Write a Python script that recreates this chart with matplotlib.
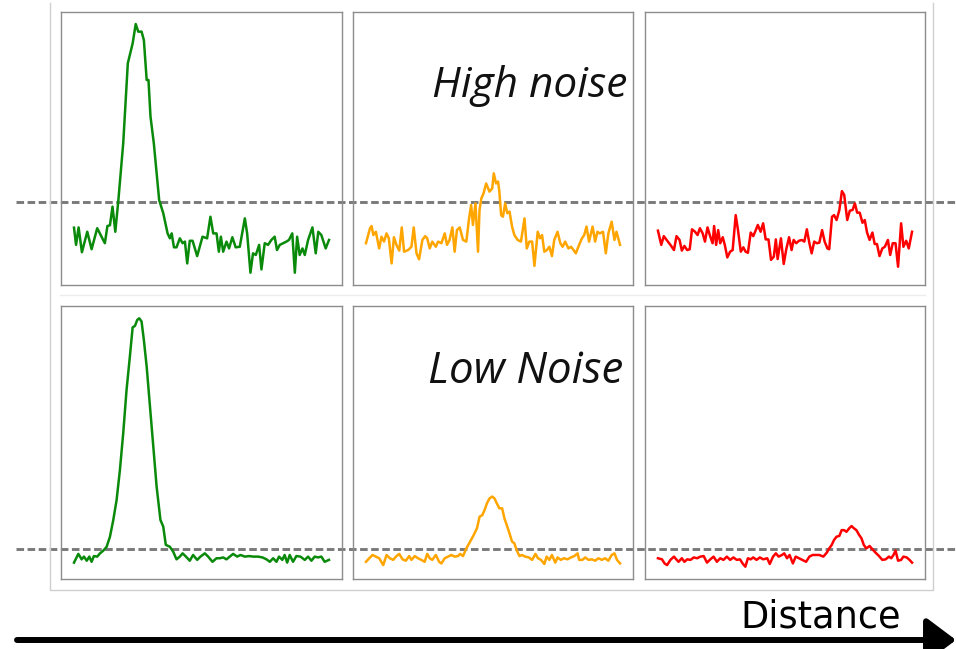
import numpy as np
import matplotlib
matplotlib.use('Agg')
import matplotlib.pyplot as plt

# distance (0-100 across the trace) and signal (% of panel height)
hi_green_x = [0, 0.8, 1.8, 3.1, 5.2, 6.9, 9.1, 12.1, 13.1, 14.1, 15.1, 16.2, 17.4, 19.3, 21.1, 23.0, 24.2, 25.2, 26.5, 27.4,
              28.5, 29.2, 30.0, 31.3, 33.4, 35.0, 36.7, 37.6, 38.3, 39.2, 40.2, 41.5, 42.6, 43.5, 44.4, 45.4, 46.5, 48.3, 50.4, 52.2,
              53.5, 54.6, 55.9, 56.8, 57.6, 58.5, 59.8, 60.8, 62.1, 63.4, 65.0, 67.0, 67.9, 69.2, 70.2, 71.3, 72.6, 73.5, 74.8, 76.1,
              77.4, 78.7, 79.6, 80.7, 82.0, 83.3, 84.3, 85.6, 86.6, 87.5, 88.5, 89.6, 90.5, 91.8, 93.5, 94.8, 95.8, 97.0, 98.7, 100]
hi_green_y = [21.0, 14.7, 21.1, 12.0, 19.5, 13.1, 20.8, 15.3, 21.6, 21.9, 28.7, 19.5, 31.1, 51.9, 81.2, 88.5, 95.6, 92.8, 92.8, 89.7,
              75.1, 75.1, 61.7, 51.9, 31.1, 26.3, 18.9, 17.1, 18.9, 13.8, 13.8, 17.1, 15.3, 15.9, 7.9, 16.2, 16.2, 10.6, 17.7, 17.1,
              25.0, 18.9, 18.9, 12.2, 17.7, 12.2, 15.9, 13.4, 17.5, 13.8, 14.0, 24.4, 18.9, 4.5, 11.6, 11.0, 14.7, 5.7, 15.3, 14.7,
              16.5, 17.7, 12.8, 14.7, 15.3, 15.9, 16.5, 18.9, 4.5, 17.7, 11.0, 13.4, 11.0, 16.5, 21.1, 11.6, 19.5, 18.3, 13.4, 16.5]

hi_orange_x = [0, 1.6, 2.2, 2.9, 3.9, 5.2, 6.1, 7.1, 8.1, 9.0, 10.1, 11.0, 12.0, 13.1, 14.1, 15.0, 16.6, 17.9, 18.8, 19.9,
               20.9, 22.2, 23.3, 24.1, 25.1, 26.1, 27.5, 28.4, 29.7, 31.0, 31.9, 32.9, 34.0, 34.9, 35.8, 36.9, 38.2, 39.5, 40.5, 41.4,
               42.1, 43.1, 44.1, 44.7, 45.4, 46.3, 47.3, 48.6, 49.7, 50.3, 51.2, 52.0, 52.5, 53.2, 53.9, 54.8, 55.6, 56.5, 57.5, 58.4,
               59.7, 61.0, 62.4, 63.3, 64.3, 65.4, 66.3, 67.6, 68.5, 69.3, 70.2, 71.2, 72.2, 73.2, 74.1, 75.4, 76.5, 77.4, 78.4, 79.7,
               80.7, 81.7, 82.6, 83.9, 85.0, 85.9, 86.8, 87.8, 89.2, 90.2, 91.1, 92.0, 93.3, 94.4, 95.4, 96.7, 97.8, 98.6, 100]
hi_orange_y = [15.3, 20.8, 21.6, 18.3, 19.5, 13.4, 17.7, 15.9, 18.9, 17.1, 7.9, 17.5, 14.7, 12.6, 21.1, 12.2, 12.8, 14.0, 21.1, 11.6,
               9.4, 16.5, 17.9, 17.1, 13.4, 15.9, 14.0, 15.9, 15.3, 18.9, 14.7, 16.5, 21.1, 12.2, 20.1, 21.1, 16.5, 15.9, 23.8, 29.3,
               22.0, 29.9, 12.2, 27.5, 31.7, 33.6, 37.2, 34.2, 35.4, 40.9, 37.2, 37.9, 34.2, 25.6, 25.0, 29.9, 26.3, 26.9, 21.4, 18.3,
               16.5, 15.9, 24.4, 13.4, 15.9, 15.9, 7.0, 19.5, 17.1, 18.3, 12.2, 12.8, 14.0, 10.6, 16.5, 19.5, 15.3, 14.0, 15.9, 13.4,
               14.0, 12.8, 11.6, 14.7, 17.1, 18.3, 21.4, 15.9, 21.4, 15.9, 19.5, 18.9, 19.5, 11.6, 18.9, 23.2, 16.5, 19.5, 14.7]

hi_red_x = [0, 1.3, 2.3, 3.9, 4.9, 6.3, 7.3, 8.5, 9.4, 10.4, 11.5, 12.5, 13.4, 14.6, 15.6, 16.5, 17.6, 18.5, 19.5, 20.6,
            21.5, 22.1, 22.9, 23.7, 24.5, 25.5, 26.3, 27.3, 28.4, 29.4, 30.6, 31.5, 32.6, 33.6, 34.5, 35.4, 36.5, 37.5, 38.5, 39.3,
            40.4, 41.4, 42.4, 43.5, 44.5, 45.6, 46.4, 47.1, 48.4, 49.5, 50.5, 51.6, 52.6, 53.4, 54.4, 55.5, 56.6, 57.6, 58.6, 59.6,
            60.5, 61.5, 62.5, 63.5, 64.6, 65.6, 66.7, 67.4, 68.5, 69.3, 70.3, 71.4, 72.4, 73.3, 74.5, 75.5, 76.6, 77.5, 78.4, 79.4,
            80.5, 81.4, 82.3, 83.3, 84.4, 85.3, 86.2, 87.2, 88.3, 89.3, 90.5, 91.4, 92.4, 93.5, 94.5, 95.7, 96.6, 97.7, 98.7, 100]
hi_red_y = [19.9, 14.7, 17.9, 15.9, 14.7, 12.8, 17.9, 16.5, 12.6, 14.3, 12.8, 13.1, 20.4, 19.5, 18.3, 20.8, 18.9, 15.9, 21.1, 17.7,
            15.3, 21.6, 14.7, 20.1, 15.3, 17.5, 14.7, 10.1, 12.2, 12.8, 25.6, 20.1, 12.2, 13.8, 12.2, 11.8, 19.2, 17.9, 20.1, 22.0,
            19.5, 22.6, 16.7, 16.7, 9.2, 10.4, 16.7, 9.5, 17.1, 7.7, 13.1, 17.5, 12.8, 16.5, 15.3, 16.2, 16.5, 15.9, 20.4, 15.3,
            11.6, 15.9, 15.3, 15.5, 20.1, 15.9, 13.4, 13.1, 25.0, 25.6, 23.8, 27.5, 34.4, 33.0, 23.8, 27.2, 27.5, 29.9, 26.5, 26.5,
            22.8, 23.8, 19.2, 16.5, 19.2, 15.0, 15.0, 10.6, 13.4, 14.0, 16.5, 11.0, 15.3, 15.3, 6.7, 22.6, 14.0, 16.2, 13.4, 19.5]

lo_green_x = [0, 1.7, 3.0, 3.9, 5.0, 6.0, 6.9, 7.8, 9.1, 10.2, 11.5, 12.8, 14.1, 15.4, 16.7, 18.0, 19.3, 20.6, 21.9, 23.0,
              23.9, 24.8, 25.6, 26.5, 27.4, 28.5, 29.8, 31.1, 32.4, 33.9, 35.0, 36.0, 37.6, 38.9, 40.2, 41.5, 42.6, 43.9, 45.4, 46.7,
              48.3, 49.6, 51.3, 52.6, 54.3, 55.9, 57.2, 58.5, 59.8, 61.1, 62.4, 64.0, 65.3, 67.0, 68.7, 70.2, 72.2, 73.9, 75.5, 76.8,
              78.1, 79.4, 80.4, 81.7, 82.6, 83.6, 84.6, 85.9, 87.2, 88.8, 90.5, 91.8, 93.1, 94.4, 95.7, 97.0, 98.3, 100]
lo_green_y = [6.0, 9.2, 7.2, 8.2, 6.7, 8.2, 6.3, 8.4, 8.2, 9.4, 10.4, 11.8, 15.5, 21.6, 28.9, 39.9, 53.4, 69.2, 81.4, 92.2,
              92.7, 94.9, 95.5, 94.3, 87.5, 77.8, 63.1, 48.5, 33.8, 21.6, 19.2, 12.5, 11.8, 10.0, 7.2, 8.2, 9.4, 8.2, 6.7, 8.8,
              7.0, 8.2, 9.4, 8.2, 6.3, 7.6, 7.6, 7.9, 7.2, 8.2, 9.2, 8.2, 8.8, 8.2, 8.4, 8.2, 8.2, 7.9, 7.2, 6.3,
              7.6, 6.3, 8.2, 7.0, 8.8, 6.0, 8.8, 6.3, 8.4, 8.2, 7.0, 8.2, 6.7, 8.2, 7.9, 8.2, 6.3, 7.0]

lo_orange_x = [0, 1.3, 2.6, 3.9, 5.2, 6.8, 8.1, 9.4, 10.7, 11.8, 13.1, 14.4, 15.7, 17.0, 17.9, 19.2, 20.5, 21.8, 23.1, 24.1,
               25.1, 26.1, 27.5, 28.8, 29.7, 31.0, 32.3, 33.6, 34.9, 36.2, 37.1, 38.2, 39.5, 41.0, 42.4, 43.7, 44.7, 45.8, 46.7, 47.6,
               48.6, 49.7, 50.6, 51.5, 52.5, 53.6, 54.5, 55.4, 56.5, 57.5, 58.4, 59.3, 60.4, 61.4, 62.7, 64.1, 65.4, 66.7, 67.7, 68.9,
               70.2, 71.1, 72.2, 73.2, 74.5, 75.4, 76.7, 78.0, 79.3, 80.7, 82.0, 83.3, 83.9, 85.2, 86.3, 87.6, 88.9, 90.2, 91.5, 92.8,
               94.1, 95.4, 96.7, 97.8, 98.8, 100]
lo_orange_y = [6.3, 7.6, 8.8, 8.2, 7.6, 5.1, 8.8, 7.6, 7.0, 8.2, 9.2, 7.2, 6.7, 8.4, 7.0, 8.4, 7.6, 7.0, 6.3, 9.2,
               7.6, 7.0, 8.8, 6.3, 5.7, 7.6, 8.2, 8.8, 8.2, 8.4, 9.2, 8.4, 11.2, 13.7, 16.1, 18.6, 22.8, 23.4, 25.3, 27.7,
               29.5, 30.2, 29.5, 27.7, 25.9, 25.9, 22.2, 19.8, 16.7, 13.7, 13.1, 10.6, 8.4, 8.8, 8.2, 7.9, 7.0, 9.2, 7.6, 7.0,
               5.5, 8.2, 7.0, 8.8, 6.0, 7.9, 7.0, 7.6, 7.2, 7.9, 8.4, 9.4, 7.0, 7.0, 7.9, 7.0, 7.2, 6.7, 7.6, 7.0,
               7.6, 6.7, 8.8, 9.4, 7.0, 5.7]

lo_red_x = [0, 1.6, 2.6, 3.6, 4.9, 6.3, 7.2, 8.1, 9.4, 10.4, 11.5, 12.8, 14.1, 15.4, 16.7, 18.0, 19.3, 20.6, 21.9, 23.2,
            24.5, 25.8, 27.1, 28.4, 29.7, 31.0, 32.3, 33.3, 34.4, 35.4, 36.5, 37.5, 38.8, 40.1, 41.4, 43.0, 44.0, 45.3, 46.4, 47.5,
            48.8, 49.7, 50.8, 51.8, 53.1, 54.2, 55.5, 56.8, 58.3, 59.6, 60.9, 62.2, 63.5, 65.1, 66.4, 67.4, 68.4, 69.3, 70.3, 71.4,
            72.3, 73.2, 74.2, 75.3, 76.2, 77.1, 78.1, 79.2, 80.1, 81.0, 82.0, 83.3, 84.4, 85.7, 87.0, 88.3, 89.6, 90.9, 91.8, 92.7,
            93.5, 94.5, 95.7, 96.6, 97.9, 99.0, 100]
lo_red_y = [7.6, 7.2, 5.7, 5.1, 7.0, 8.2, 7.2, 6.3, 7.6, 6.3, 7.2, 7.0, 7.9, 7.6, 8.2, 8.4, 6.0, 7.2, 8.2, 6.3,
            7.6, 7.0, 8.2, 7.0, 7.9, 7.0, 7.2, 5.7, 4.5, 7.6, 7.2, 7.9, 7.0, 7.9, 7.2, 7.6, 5.5, 8.2, 9.4, 8.2,
            8.8, 9.4, 7.6, 8.8, 5.7, 8.2, 7.6, 7.0, 6.3, 8.2, 8.8, 8.8, 8.8, 8.2, 9.6, 11.2, 12.5, 14.3, 15.5, 15.8,
            17.9, 17.9, 17.3, 18.6, 19.4, 18.6, 17.9, 16.1, 14.9, 12.5, 11.2, 12.1, 10.9, 9.6, 8.4, 7.0, 7.2, 8.2, 7.6, 8.8,
            10.4, 6.7, 7.0, 8.2, 7.9, 7.0, 6.0]

rows = [
    [(hi_green_x, hi_green_y, '#0a8a0a'), (hi_orange_x, hi_orange_y, '#ffa500'), (hi_red_x, hi_red_y, '#ff0000')],
    [(lo_green_x, lo_green_y, '#0a8a0a'), (lo_orange_x, lo_orange_y, '#ffa500'), (lo_red_x, lo_red_y, '#ff0000')],
]
labels = ['High noise', 'Low Noise']

W, H = 956, 649
fig = plt.figure(figsize=(W / 100, H / 100), dpi=100)

# background layer in pixel coordinates
bg = fig.add_axes([0, 0, 1, 1])
bg.set_xlim(0, W)
bg.set_ylim(H, 0)
bg.axis('off')

bg.plot([50, 50, 933, 933], [3, 590, 590, 3], color='#cfcfcf', lw=1.0)
bg.plot([60, 925], [295, 295], color='#ececec', lw=1.0)

for yy in [202, 549]:
    bg.plot([16, 956], [yy, yy], color='#7a7a7a', lw=2.1, ls=(0, (2.6, 1.2)), zorder=1)

bg.annotate('', xy=(956, 640), xytext=(17, 640),
            arrowprops=dict(arrowstyle='-|>,head_length=0.6,head_width=0.45', lw=4.3,
                            color='black', mutation_scale=30, shrinkA=0, shrinkB=0))
bg.text(740, 627, 'Distance', fontsize=26.5, family='DejaVu Sans', ha='left', va='baseline')

bg.text(432, 97, labels[0], fontsize=30.5, family='Open Sans', style='italic',
        ha='left', va='baseline', color='#111111')
bg.text(428, 383, labels[1], fontsize=31.5, family='Open Sans', style='italic',
        ha='left', va='baseline', color='#111111')

cols = [(61, 342), (353, 633), (645, 925)]
rows_px = [(12, 285), (306, 579)]

for r, (top, bot) in enumerate(rows_px):
    for c, (left, right) in enumerate(cols):
        ax = fig.add_axes([left / W, (H - bot) / H, (right - left) / W, (bot - top) / H])
        ax.patch.set_alpha(0)
        xs, ys, col = rows[r][c]
        ax.plot(xs, ys, color=col, lw=1.8)
        ax.set_xlim(-5.1, 105.1)
        ax.set_ylim(0, 100)
        ax.set_xticks([])
        ax.set_yticks([])
        for s in ax.spines.values():
            s.set_color('#8c8c8c')
            s.set_linewidth(1.0)

fig.savefig('out.png', dpi=100)
